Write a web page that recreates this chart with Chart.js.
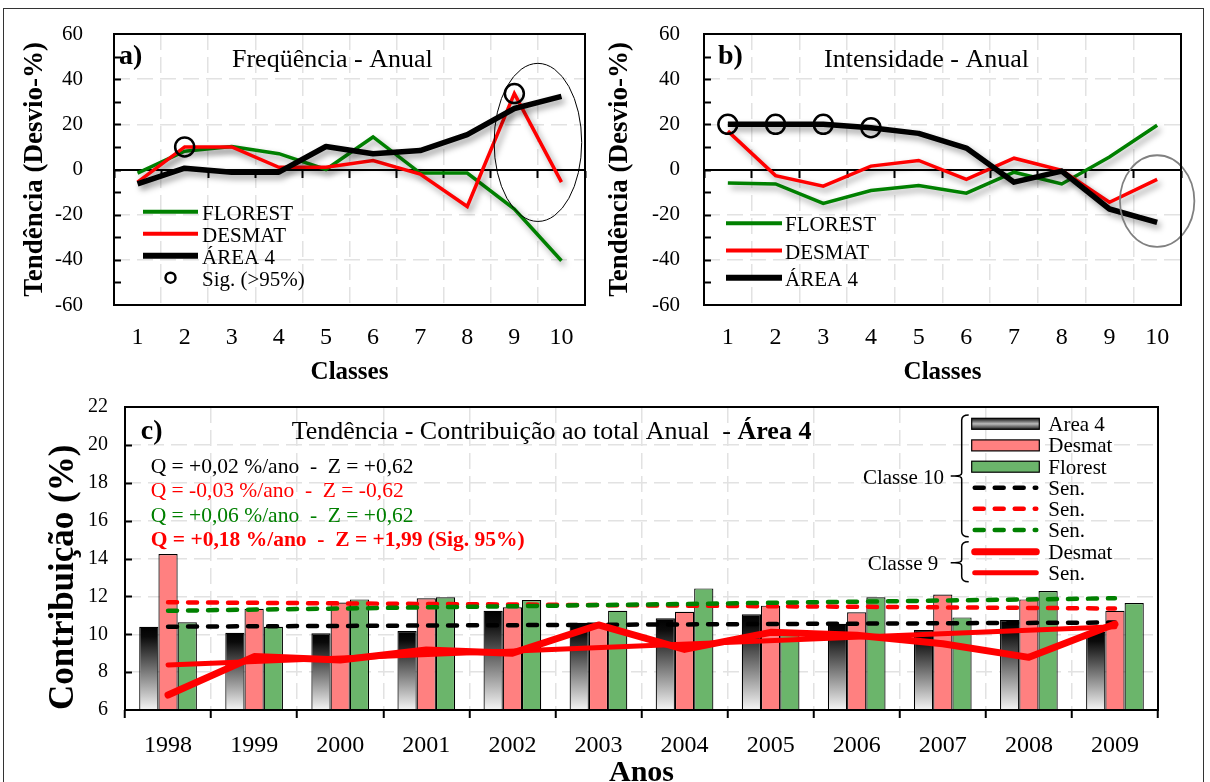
<!DOCTYPE html>
<html><head><meta charset="utf-8">
<script src="https://cdn.jsdelivr.net/npm/chart.js@4.4.1/dist/chart.umd.min.js"></script>
<style>
html,body{margin:0;padding:0;background:#fff;overflow:hidden;width:1210px;height:782px;}
#wrap{position:relative;width:1210px;height:782px;overflow:hidden;}
canvas{position:absolute;left:0;top:0;}
#frame{position:absolute;left:3px;top:8px;width:1201px;height:800px;border:1px solid #333;box-sizing:border-box;}
</style></head><body><div id="wrap"><div id="frame"></div>
<canvas id="ca" width="1210" height="782"></canvas>
<canvas id="cb" width="1210" height="782"></canvas>
<canvas id="cc" width="1210" height="800"></canvas>
</div>
<script>
// ---------- data: panels a) and b) ----------
const classes = ['1','2','3','4','5','6','7','8','9','10'];
const freqFlorest = [-1.6, 8.1, 10.2, 7.0, 0.0, 14.4, -1.6, -1.6, -17.5, -40.4];
const freqDesmat  = [-5.6, 10.0, 10.0, 1.0, 1.0, 4.0, -2.0, -16.4, 33.6, -5.6];
const freqArea4   = [-6.4, 0.6, -1.2, -1.2, 10.2, 7.0, 8.4, 15.4, 27.0, 32.4];
const freqSigIdx  = [1, 8];            // significant points (on DESMAT)
const intensFlorest = [-6.0, -6.4, -15.0, -9.3, -7.1, -10.5, -1.2, -6.4, 5.5, 19.6];
const intensDesmat  = [17.0, -2.7, -7.4, 1.5, 4.0, -4.4, 5.0, -0.4, -14.5, -4.4];
const intensArea4   = [20.0, 20.0, 20.0, 18.5, 16.0, 9.5, -5.6, -0.7, -17.5, -23.4];
const intensSigIdx  = [0, 1, 2, 3];    // significant points (on ÁREA 4)

// ---------- data: panel c) ----------
const years = ['1998','1999','2000','2001','2002','2003','2004','2005','2006','2007','2008','2009'];
const contribArea4   = [10.40, 10.08, 10.05, 10.17, 11.24, 10.61, 10.84, 11.05, 10.55, 10.22, 10.75, 10.13];
const contribDesmat  = [14.24, 11.35, 11.67, 11.90, 11.42, 10.50, 11.19, 11.51, 11.16, 12.10, 11.84, 11.24];
const contribFlorest = [10.63, 10.40, 11.84, 11.95, 11.81, 11.24, 12.42, 10.22, 11.95, 10.89, 12.28, 11.65];
const senYears   = ['1998', '2009'];
const senArea4   = [10.40, 10.62];
const senDesmat  = [11.69, 11.36];
const senFlorest = [11.24, 11.90];
const c9Desmat   = [6.79, 8.82, 8.64, 9.17, 9.00, 10.49, 9.20, 10.10, 9.95, 9.50, 8.78, 10.54];
const c9Sen      = [8.38, 10.40];

// ---------- styles ----------
const SERIF = "'Liberation Serif','Times New Roman',serif";
const GREEN = '#008000', RED = '#ff0000', BLACK = '#000000';
const GRID = '#e2e2e2';
const PINK = '#ff8080', LGREEN = '#6bb56b';
Chart.defaults.font.family = SERIF;
Chart.defaults.color = '#000';

function txt(ctx, s, x, y, font, color, align) {
  ctx.font = font; ctx.fillStyle = color || '#000';
  ctx.textAlign = align || 'left'; ctx.textBaseline = 'alphabetic';
  ctx.fillText(s, x, y);
}

const framePlugin = {id:'frame', afterDraw(chart){
  const {ctx, chartArea:a} = chart; ctx.save();
  ctx.strokeStyle = '#000'; ctx.lineWidth = 2;
  ctx.strokeRect(a.left, a.top, a.right - a.left, a.bottom - a.top);
  ctx.restore();
}};
function inwardTicks(step){ return {id:'inward', afterDraw(chart){
  const {ctx, chartArea:a, scales:{y}} = chart; ctx.save();
  ctx.strokeStyle = '#000'; ctx.lineWidth = 2;
  for (let v = y.min + step; v < y.max - 1e-9; v += step) {
    const p = Math.round(y.getPixelForValue(v)) + 0.5;
    ctx.beginPath(); ctx.moveTo(a.left, p); ctx.lineTo(a.left + 7, p); ctx.stroke();
  }
  ctx.restore();
}}; }
const shadowPlugin = {id:'shadow',
  beforeDatasetDraw(chart, args){ const ds = chart.data.datasets[args.index];
    if (ds.shadow) { const c = chart.ctx; c.save(); c.shadowColor = 'rgba(0,0,0,0.38)'; c.shadowBlur = 6; c.shadowOffsetX = 3; c.shadowOffsetY = 4; } },
  afterDatasetDraw(chart, args){ const ds = chart.data.datasets[args.index]; if (ds.shadow) chart.ctx.restore(); }
};

function makeTrend(id, P) {
  const sig = P.sigSeries.map((v, i) => P.sigIdx.includes(i) ? v : null);
  const deco = {id:'deco', afterDatasetsDraw(chart){
    const {ctx, chartArea:a, scales:{x, y}} = chart; ctx.save();
    // ellipse annotation
    const e = P.ellipse;
    const band = x.getPixelForValue(1) - x.getPixelForValue(0);
    ctx.beginPath();
    ctx.ellipse(x.getPixelForValue(e.cx), y.getPixelForValue(e.cy), e.rx * band,
      Math.abs(y.getPixelForValue(e.ry) - y.getPixelForValue(0)), 0, 0, Math.PI * 2);
    ctx.strokeStyle = e.color; ctx.lineWidth = e.w; ctx.stroke();
    // titles
    txt(ctx, P.letter, a.left + P.letterDx, 64, `bold 28px ${SERIF}`);
    txt(ctx, P.title, a.left + P.titleDx, 67, `26px ${SERIF}`);
    // legend
    const ds = chart.data.datasets;
    [3, 2, 1].forEach((k, r) => {
      const ly = P.leg.y0 + r * P.leg.dy;
      ctx.beginPath(); ctx.moveTo(a.left + P.leg.x0, ly); ctx.lineTo(a.left + P.leg.x1, ly);
      ctx.strokeStyle = ds[k].borderColor; ctx.lineWidth = ds[k].borderWidth + 0.5; ctx.lineCap = 'butt'; ctx.stroke();
      txt(ctx, ds[k].label, a.left + P.leg.tx, ly + 8, `21px ${SERIF}`);
    });
    if (P.sigLegend) {
      const ly = P.leg.y0 + 3 * P.leg.dy;
      ctx.beginPath(); ctx.arc(a.left + (P.leg.x0 + P.leg.x1) / 2, ly, 5, 0, Math.PI * 2);
      ctx.strokeStyle = '#000'; ctx.lineWidth = 2.5; ctx.stroke();
      txt(ctx, 'Sig. (>95%)', a.left + P.leg.tx, ly + 8, `21px ${SERIF}`);
    }
    ctx.restore();
  }};
  return new Chart(document.getElementById(id), {
    type: 'line',
    data: { labels: classes, datasets: [
      {label:'Sig', data:sig, showLine:false, pointRadius:9.5, pointBorderWidth:2.5, pointBorderColor:'#000', pointBackgroundColor:'rgba(0,0,0,0)', order:0},
      {label:'ÁREA 4', data:P.area, borderColor:BLACK, borderWidth:5.5, pointRadius:0, order:1, shadow:true, borderJoinStyle:'round'},
      {label:'DESMAT', data:P.desmat, borderColor:RED, borderWidth:3.5, pointRadius:0, order:2, shadow:true},
      {label:'FLOREST', data:P.florest, borderColor:GREEN, borderWidth:3.5, pointRadius:0, order:3, shadow:true}
    ]},
    options: {
      responsive:false, animation:false, events:[],
      layout:{padding:{left:P.padLeft, right:1210 - P.right, top:34, bottom:782 - 395}},
      plugins:{legend:{display:false}, tooltip:{enabled:false}},
      scales:{
        x:{type:'category', offset:true,
          grid:{offset:true, color:GRID, lineWidth:1.5, drawTicks:false},
          border:{display:false, dash:[16,7]},
          ticks:{padding:18.6, font:{size:24}, color:'#000', maxRotation:0, autoSkip:false},
          title:{display:true, text:'Classes', font:{size:25, weight:'bold'}, color:'#000', padding:{top:0, bottom:7}},
          afterFit:s => { s.height = 90; }},
        x0:{type:'category', axis:'x', position:{y:0}, offset:true,
          grid:{offset:true, drawOnChartArea:false, drawTicks:true, tickLength:7, tickWidth:2, tickColor:'#000'},
          ticks:{display:false}, border:{display:true, color:'#000', width:2}},
        y:{min:-60, max:60,
          ticks:{stepSize:20, padding:0, font:{size:21}, color:'#000', callback:v => String(v)},
          grid:{color:GRID, lineWidth:1.5, drawTicks:true, tickLength:P.tickPad, tickColor:'rgba(0,0,0,0)'},
          border:{display:false, dash:[16,7]},
          title:{display:true, text:'Tendência (Desvio-%)', font:{size:27, weight:'bold'}, color:'#000', padding:{top:P.titlePad, bottom:0}},
          afterFit:s => { s.width = P.yWidth; }}
      }
    },
    plugins:[shadowPlugin, inwardTicks(10), deco, framePlugin]
  });
}

makeTrend('ca', {florest:freqFlorest, desmat:freqDesmat, area:freqArea4, sigSeries:freqDesmat, sigIdx:freqSigIdx,
  padLeft:0, yWidth:114, right:585, tickPad:31, titlePad:19,
  letter:'a)', letterDx:5, title:'Freqüência - Anual', titleDx:118,
  leg:{x0:29, x1:84, tx:88, y0:211.7, dy:22}, sigLegend:true,
  ellipse:{cx:8.5, cy:12, rx:0.93, ry:35, color:'#000', w:1}});

makeTrend('cb', {florest:intensFlorest, desmat:intensDesmat, area:intensArea4, sigSeries:intensArea4, sigIdx:intensSigIdx,
  padLeft:600, yWidth:104, right:1181, tickPad:24, titlePad:4,
  letter:'b)', letterDx:14, title:'Intensidade - Anual', titleDx:120,
  leg:{x0:22, x1:78, tx:81, y0:223.3, dy:27.2}, sigLegend:false,
  ellipse:{cx:9, cy:-14, rx:0.78, ry:20.3, color:'#808080', w:1.8}});

// ---------- panel c ----------
const areaGradient = (c) => {
  if (c.type !== 'data') return '#444';
  const ch = c.chart, ys = ch.scales.y;
  if (!ch.chartArea || !ys) return '#444';
  const top = ys.getPixelForValue(c.parsed ? c.parsed.y : contribArea4[c.dataIndex]);
  const bot = ch.chartArea.bottom;
  const g = ch.ctx.createLinearGradient(0, top, 0, bot);
  g.addColorStop(0, '#000'); g.addColorStop(0.12, '#0a0a0a'); g.addColorStop(1, '#f5f5f5');
  return g;
};
const pairs = (arr) => senYears.map((yr, i) => ({x: yr, y: arr[i]}));

const decoC = {id:'decoC', afterDatasetsDraw(chart){
  const {ctx} = chart; ctx.save();
  txt(ctx, 'c)', 140.7, 439.3, `bold 28px ${SERIF}`);
  const t1 = 'Tendência - Contribuição ao total Anual  - ';
  txt(ctx, t1, 291.7, 439.3, `26px ${SERIF}`);
  ctx.font = `26px ${SERIF}`; const w = ctx.measureText(t1).width;
  txt(ctx, 'Área 4', 291.7 + w, 439.3, `bold 26px ${SERIF}`);
  txt(ctx, 'Q = +0,02 %/ano  -  Z = +0,62', 150.7, 473.3, `21.5px ${SERIF}`, BLACK);
  txt(ctx, 'Q = -0,03 %/ano  -  Z = -0,62', 150.7, 497.3, `21.5px ${SERIF}`, RED);
  txt(ctx, 'Q = +0,06 %/ano  -  Z = +0,62', 150.7, 521.7, `21.5px ${SERIF}`, GREEN);
  txt(ctx, 'Q = +0,18 %/ano  -  Z = +1,99 (Sig. 95%)', 150.7, 546, `bold 21.5px ${SERIF}`, RED);
  // legend
  const ds = chart.data.datasets;
  const sx0 = 971.7, sx1 = 1039.3, tx = 1048.3;
  const rows = [423.8, 445.4, 466.7, 487.7, 508.7, 530, 551.7, 572.7];
  [0, 1, 2].forEach(k => {
    const cy = rows[k], h = 11;
    let fill = ds[k].backgroundColor;
    if (typeof fill === 'function') { const g = ctx.createLinearGradient(0, cy - h/2, 0, cy + h/2); g.addColorStop(0, '#111'); g.addColorStop(0.5, '#bbb'); g.addColorStop(1, '#222'); fill = g; }
    ctx.fillStyle = fill; ctx.fillRect(sx0, cy - h/2, sx1 - sx0, h);
    ctx.strokeStyle = '#000'; ctx.lineWidth = 1.2; ctx.strokeRect(sx0, cy - h/2, sx1 - sx0, h);
  });
  [3, 4, 5, 6, 7].forEach((k, r) => {
    const cy = rows[3 + r];
    ctx.beginPath(); ctx.moveTo(sx0 + 3, cy); ctx.lineTo(sx1 - 3, cy);
    ctx.strokeStyle = ds[k].borderColor; ctx.lineWidth = ds[k].borderWidth;
    ctx.lineCap = 'round'; ctx.setLineDash(ds[k].borderDash || []); ctx.stroke(); ctx.setLineDash([]);
  });
  const labels = ['Area 4', 'Desmat', 'Florest', 'Sen.', 'Sen.', 'Sen.', 'Desmat', 'Sen.'];
  labels.forEach((s, i) => txt(ctx, s, tx, rows[i] + 7, `21px ${SERIF}`));
  function brace(top, bot, mid) {
    const x = 961.7;
    ctx.beginPath();
    ctx.moveTo(x + 7, top); ctx.quadraticCurveTo(x, top, x, top + 5);
    ctx.lineTo(x, mid - 3); ctx.quadraticCurveTo(x, mid, x - 7, mid);
    ctx.quadraticCurveTo(x, mid, x, mid + 3);
    ctx.lineTo(x, bot - 5); ctx.quadraticCurveTo(x, bot, x + 7, bot);
    ctx.moveTo(x - 7, mid); ctx.lineTo(x - 11, mid);
    ctx.strokeStyle = '#000'; ctx.lineWidth = 1.5; ctx.lineCap = 'butt'; ctx.stroke();
  }
  brace(415, 536.7, 476);
  brace(541.7, 581.7, 562.7);
  txt(ctx, 'Classe 10', 944, 484, `21px ${SERIF}`, '#000', 'right');
  txt(ctx, 'Classe 9', 938.3, 569.5, `21px ${SERIF}`, '#000', 'right');
  ctx.restore();
}};

new Chart(document.getElementById('cc'), {
  type: 'bar',
  data: { labels: years, datasets: [
    {label:'Area 4', data:contribArea4, backgroundColor:areaGradient, borderColor:'#000', borderWidth:1.2, categoryPercentage:0.67, barPercentage:1.0, order:10},
    {label:'Desmat', data:contribDesmat, backgroundColor:PINK, borderColor:'#000', borderWidth:1.2, categoryPercentage:0.67, barPercentage:1.0, order:10},
    {label:'Florest', data:contribFlorest, backgroundColor:LGREEN, borderColor:'#000', borderWidth:1.2, categoryPercentage:0.67, barPercentage:1.0, order:10},
    {type:'line', label:'Sen. A', data:pairs(senArea4), borderColor:BLACK, borderWidth:4.5, borderDash:[9,11], borderCapStyle:'round', pointRadius:0, order:5},
    {type:'line', label:'Sen. D', data:pairs(senDesmat), borderColor:RED, borderWidth:4.5, borderDash:[9,11], borderCapStyle:'round', pointRadius:0, order:4},
    {type:'line', label:'Sen. F', data:pairs(senFlorest), borderColor:GREEN, borderWidth:4.5, borderDash:[9,11], borderCapStyle:'round', pointRadius:0, order:3},
    {type:'line', label:'C9 Desmat', data:c9Desmat, borderColor:RED, borderWidth:7, borderCapStyle:'round', borderJoinStyle:'round', pointRadius:0, order:1},
    {type:'line', label:'C9 Sen', data:pairs(c9Sen), borderColor:RED, borderWidth:5, borderCapStyle:'round', pointRadius:0, order:2}
  ]},
  options: {
    responsive:false, animation:false, events:[],
    layout:{padding:{left:0, right:52, top:407, bottom:0}},
    plugins:{legend:{display:false}, tooltip:{enabled:false}},
    scales:{
      x:{offset:true,
        grid:{offset:true, color:GRID, lineWidth:1.5, drawTicks:true, tickLength:8, tickWidth:2, tickColor:'#000'},
        border:{display:false, dash:[16,7]},
        ticks:{padding:13.6, font:{size:24}, color:'#000', maxRotation:0, autoSkip:false},
        title:{display:true, text:'Anos', font:{size:30, weight:'bold'}, color:'#000', padding:{top:0, bottom:9}},
        afterFit:s => { s.height = 90; }},
      y:{min:6, max:22,
        ticks:{stepSize:2, padding:17, font:{size:20}, color:'#000'},
        grid:{color:GRID, lineWidth:1.5, drawTicks:false},
        border:{display:false, dash:[16,7]},
        title:{display:true, text:'Contribuição (%)', align:'start', font:{size:35, weight:'bold'}, color:'#000', padding:{top:43, bottom:0}},
        afterFit:s => { s.width = 125; }}
    }
  },
  plugins:[inwardTicks(2), decoC, framePlugin]
});
</script>
</body></html>
